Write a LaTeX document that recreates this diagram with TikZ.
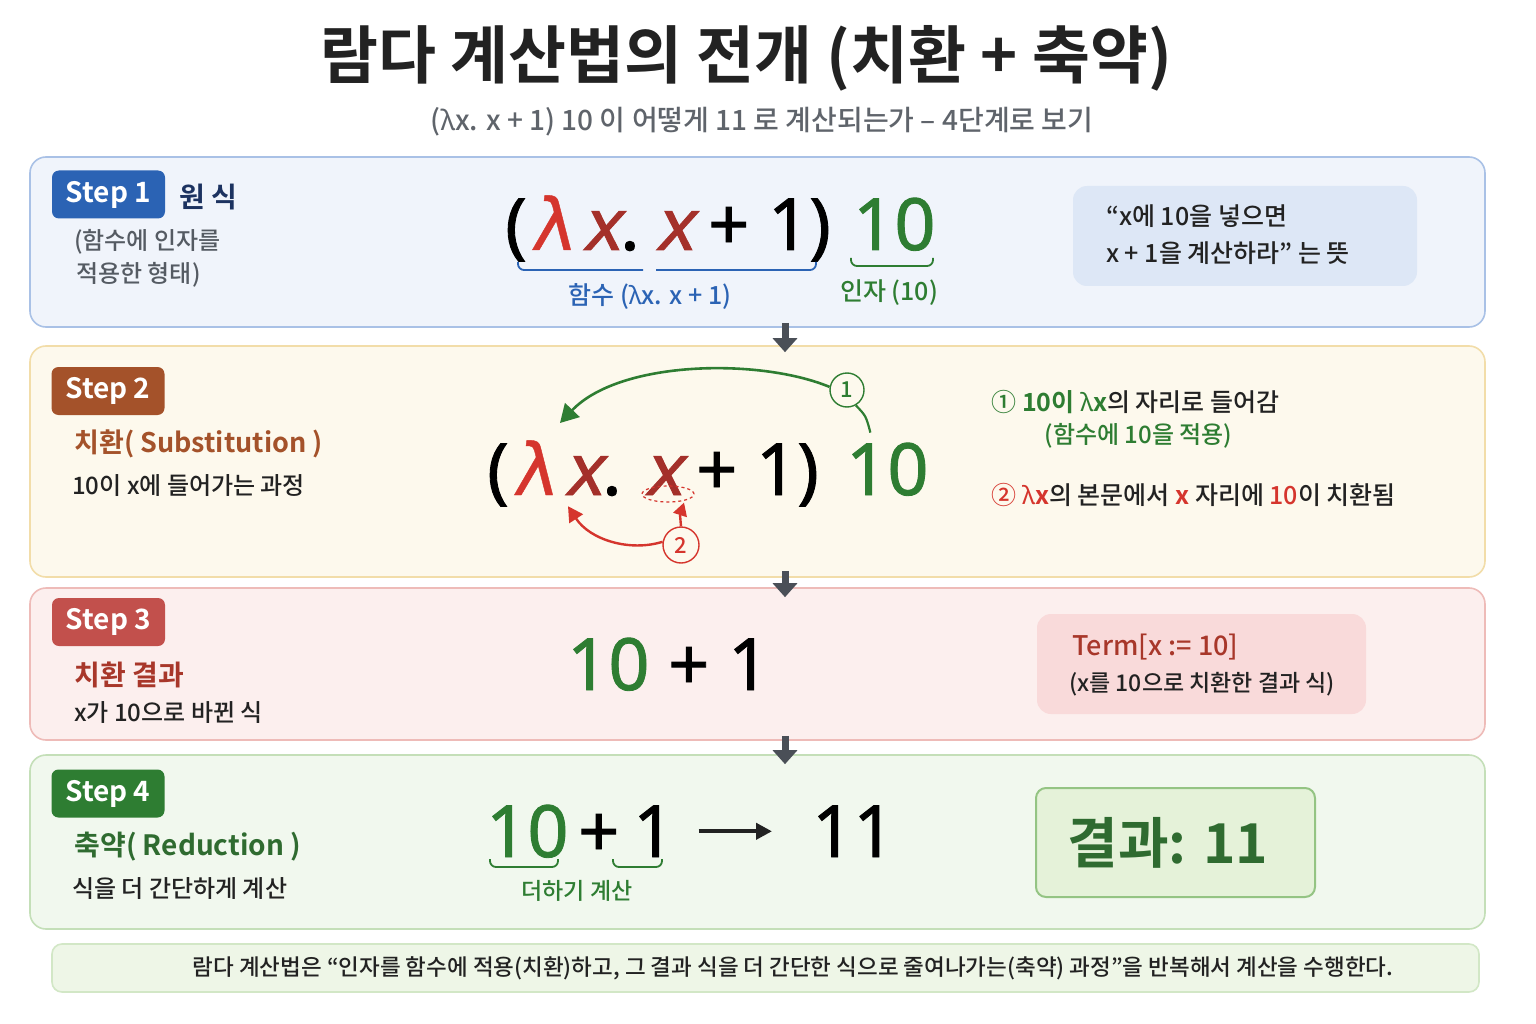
\documentclass[tikz,border=0pt]{standalone}
\usepackage{fontspec}
\setmainfont{Noto Sans CJK KR}[UprightFont=* Medium, BoldFont=* Bold]
\newfontfamily\latfont{Noto Sans}
\newfontfamily\formfont{Noto Sans}[FakeBold=1.2]
\newfontfamily\slfont{Noto Sans}[FakeSlant=0.2,FakeBold=1.2]
\newfontfamily\lamfont{DejaVu Sans}[FakeSlant=0.12,FakeBold=0.6]
\usetikzlibrary{arrows.meta,positioning,shapes.geometric}

\definecolor{ink}{HTML}{222222}
\definecolor{subgray}{HTML}{5F646B}
\definecolor{gray1}{HTML}{555B63}
\definecolor{navy}{HTML}{1C3260}
\definecolor{s1col}{HTML}{2B63B4}
\definecolor{s2col}{HTML}{A4522A}
\definecolor{s3col}{HTML}{C2504C}
\definecolor{s3txt}{HTML}{A8372A}
\definecolor{s4col}{HTML}{2E7D32}
\definecolor{grn}{HTML}{2E7D32}
\definecolor{dgrn}{HTML}{2F6B30}
\definecolor{lamred}{HTML}{D5352D}
\definecolor{xred}{HTML}{A4302A}
\definecolor{bluebg}{HTML}{F0F4FB}
\definecolor{blueline}{HTML}{A9C1E6}
\definecolor{bluebox}{HTML}{DDE7F6}
\definecolor{yelbg}{HTML}{FDF9ED}
\definecolor{yelline}{HTML}{F2DDA9}
\definecolor{redbg}{HTML}{FCEFEE}
\definecolor{redline}{HTML}{EEBBB8}
\definecolor{redbox}{HTML}{F9DADA}
\definecolor{grnbg}{HTML}{F1F8EE}
\definecolor{grnline}{HTML}{C4DFB8}
\definecolor{grnbox}{HTML}{E5F2D9}
\definecolor{grnboxline}{HTML}{94C483}
\definecolor{notebg}{HTML}{EEF6E7}
\definecolor{noteline}{HTML}{D2E7C6}
\definecolor{flowgray}{HTML}{4A4F57}

\newcommand\fsz[1]{\fontsize{#1}{#1}\selectfont}
\newcommand\lam{{\latfont λ}}
\newcommand\ubrace[4]{\draw[#4, line width=1.8pt, rounded corners=6pt] (#1,#3-8) -- (#1,#3) -- (#2,#3) -- (#2,#3-8);}

\tikzset{
  panelbox/.style={rounded corners=16pt, line width=1.6pt},
  stepbadge/.style={rounded corners=7pt, text=white, font=\fsz{28}\bfseries,
    minimum width=113pt, minimum height=48pt, inner sep=0pt},
  form/.style={font=\formfont\fsz{72}, inner sep=0pt, anchor=base west},
  txt/.style={font=\fsz{24}, text=ink, anchor=west, inner sep=0pt},
  flowarrow/.style={draw=flowgray, line width=7pt, -{Triangle[width=24pt,length=14pt]}},
  numcirc/.style={circle, draw, line width=1.4pt, minimum size=34pt, inner sep=0pt, font=\fsz{22}, fill=yelbg}
}

\begin{document}
\begin{tikzpicture}[x=1pt,y=-1pt]
\useasboundingbox[fill=white] (0,0) rectangle (1536,1024);

% title
\node[font=\fsz{63}\bfseries, text=ink, anchor=base] (title) at (746,79) {람다 계산법의 전개 (치환 + 축약)};
\node[font=\fsz{28}, text=subgray, anchor=base] (subtitle) at (762,131) {(\lam x. x + 1) 10 이 어떻게 11 로 계산되는가 – 4단계로 보기};

% panels
\node[panelbox, draw=blueline, fill=bluebg, minimum width=1455pt, minimum height=170pt] (p1) at (757.5,242) {};
\node[panelbox, draw=yelline, fill=yelbg, minimum width=1455pt, minimum height=231pt] (p2) at (757.5,461.5) {};
\node[panelbox, draw=redline, fill=redbg, minimum width=1455pt, minimum height=152pt] (p3) at (757.5,664) {};
\node[panelbox, draw=grnline, fill=grnbg, minimum width=1455pt, minimum height=174pt] (p4) at (757.5,842) {};
\node[panelbox, rounded corners=10pt, draw=noteline, fill=notebg, minimum width=1427pt, minimum height=48pt] (pn) at (765.5,968) {};

\draw[flowarrow] ([xshift=27.5pt,yshift=5pt]p1.south) -- ([xshift=27.5pt,yshift=-7pt]p2.north);
\draw[flowarrow] ([xshift=27.5pt,yshift=7pt]p2.south) -- ([xshift=27.5pt,yshift=-10pt]p3.north);
\draw[flowarrow] ([xshift=27.5pt,yshift=5pt]p3.south) -- ([xshift=27.5pt,yshift=-10pt]p4.north);

% step 1
\node[stepbadge, fill=s1col] (b1) at (108.5,194.5) {Step 1};
\node[font=\fsz{28}\bfseries, text=navy, anchor=west] (h1) at (176,197) {원 식};
\node[txt, text=gray1] (d1a) at (74,242) {(함수에 인자를};
\node[txt, text=gray1] (d1b) at (76,275) {적용한 형태)};

\node[form] (s1open) at (505,250) {(};
\node[form, text=lamred] (s1lam) at (530,250) {\lamfont λ};
\node[form] (s1x) at (582,250) {{\slfont\color{xred}x}.};
\node[form, text=xred] (s1body) at (655,250) {\slfont x};
\node[form] (s1rest) at (708,250) {+ 1)};
\node[form, text=grn] (s1arg) at (853,250) {10};
\draw[s1col, line width=1.8pt, rounded corners=6pt] (518,262) -- (518,270) -- (643,270);
\draw[s1col, line width=1.8pt, rounded corners=6pt] (656,270) -- (816,270) -- (816,262);
\ubrace{851}{933}{266}{grn}
\node[font=\fsz{25}, text=s1col] (f1) at (650,297) {함수 (\lam x. x + 1)};
\node[font=\fsz{25}, text=grn] (a1) at (889,293) {인자 (10)};

\node[rounded corners=14pt, fill=bluebox, minimum width=344pt, minimum height=100pt] (n1) at (1245,236) {};
\node[txt, font=\fsz{25}] (n1a) at (1106,216) {“x에 10을 넣으면};
\node[txt, font=\fsz{25}] (n1b) at (1106,253) {x + 1을 계산하라” 는 뜻};

% step 2
\node[stepbadge, fill=s2col] (b2) at (108,391) {Step 2};
\node[font=\fsz{27}\bfseries, text=s2col, anchor=west] (h2) at (71,444) {치환( Substitution )};
\node[txt] (d2) at (72,486) {10이 x에 들어가는 과정};

\node[form] (s2open) at (487,495) {(};
\node[form, text=lamred] (s2lam) at (512,495) {\lamfont λ};
\node[form] (s2x) at (564,495) {{\slfont\color{xred}x}.};
\node[form, text=xred] (s2body) at (644,495) {\slfont x};
\node[form] (s2rest) at (696,495) {+ 1)};
\node[form, text=grn] (s2arg) at (846,495) {10};

\node[ellipse, draw=lamred, line width=1.2pt, dash pattern=on 3pt off 3pt, minimum width=52pt, minimum height=16pt, inner sep=0pt] (s2hole) at (668,494) {};
\node[numcirc, draw=grn, text=grn] (c1) at (847,390) {1};
\node[numcirc, draw=lamred, text=lamred, minimum size=36pt] (c2) at (681,545) {2};

\draw[grn, line width=2.6pt, -{Triangle[width=20pt,length=18pt]}] (c1.170) .. controls (760,358) and (620,360) .. (560,423);
\draw[grn, line width=2.2pt] (c1.-60) .. controls (866,416) .. ([shift={(-17pt,10pt)}]s2arg.north);
\draw[lamred, line width=2.4pt, -{Triangle[width=16pt,length=15pt]}] (c2.170) .. controls (630,552) and (590,540) .. ([shift={(4pt,-10pt)}]s2x.south west);
\draw[lamred, line width=2.4pt, -{Triangle[width=14pt,length=13pt]}] (c2.north) .. controls (680,515) .. ([xshift=16pt]s2hole.south);

\node[font=\fsz{25}, text=ink, anchor=west] (l1) at (988,402) {{\color{grn}① \bfseries 10이 \lam x}의 자리로 들어감};
\node[font=\fsz{24}, text=grn, anchor=west] (l1b) at (1041,436) {(함수에 10을 적용)};
\node[font=\fsz{25}, text=ink, anchor=west] (l2) at (988,495) {{\color{lamred}②} {\color{lamred}\bfseries \lam x}의 본문에서 {\color{lamred}\bfseries x} 자리에 {\color{lamred}10}이 치환됨};

% step 3
\node[stepbadge, fill=s3col] (b3) at (108.5,622) {Step 3};
\node[font=\fsz{28}\bfseries, text=s3txt, anchor=west] (h3) at (71,675) {치환 결과};
\node[txt] (d3) at (74,713) {x가 10으로 바뀐 식};
\node[form] (s3expr) at (567,690) {{\color{grn}10} + 1};
\node[rounded corners=14pt, fill=redbox, minimum width=329pt, minimum height=100pt] (n3) at (1201.5,664) {};
\node[font=\fsz{27}, text=s3txt, anchor=west] (t3a) at (1069,647) {Term[x := 10]};
\node[txt, font=\fsz{23}] (t3b) at (1069,684) {(x를 10으로 치환한 결과 식)};

% step 4
\node[stepbadge, fill=s4col] (b4) at (108,793.5) {Step 4};
\node[font=\fsz{28}\bfseries, text=dgrn, anchor=west] (h4) at (71,847) {축약( Reduction )};
\node[txt] (d4) at (72,889) {식을 더 간단하게 계산};
\node[form, text=grn] (s4ten) at (486,857) {10};
\node[form] (s4plus) at (578,857) {+};
\node[form] (s4one) at (633,857) {1};
\node[form] (s4res) at (812,857) {11};
\draw[ink, line width=4pt, -{Triangle[width=16pt,length=16pt]}] ([xshift=24pt]s4one.east) -- ([xshift=-40pt]s4res.west);
\ubrace{490}{558}{867}{grn}
\ubrace{613}{662}{867}{grn}
\node[font=\fsz{23}, text=grn] (a4) at (577,891) {더하기 계산};
\node[rounded corners=10pt, draw=grnboxline, line width=2pt, fill=grnbox, minimum width=279pt, minimum height=109pt] (n4) at (1175.5,842.5) {};
\node[font=\fsz{55}\bfseries, text=dgrn] (r4) at (1168,843) {결과: 11};

% note
\node[font=\fsz{22.5}, text=ink] (note) at (793,968) {람다 계산법은 “인자를 함수에 적용(치환)하고, 그 결과 식을 더 간단한 식으로 줄여나가는(축약) 과정”을 반복해서 계산을 수행한다.};
\end{tikzpicture}
\end{document}
